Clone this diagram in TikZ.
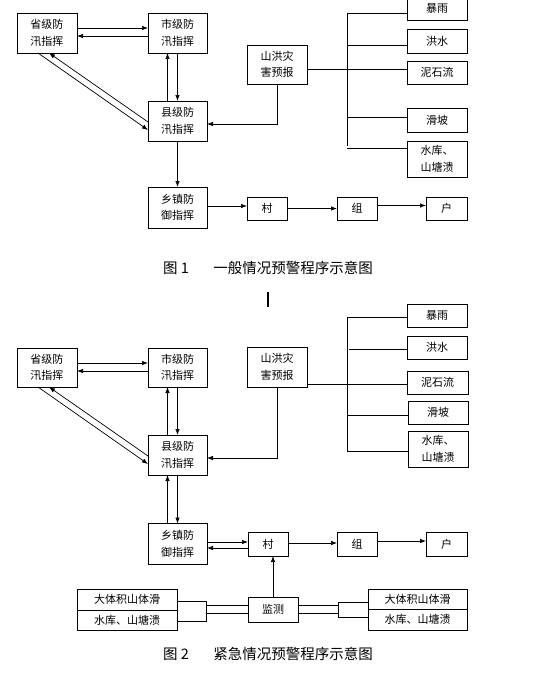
\documentclass[tikz,border=0pt]{standalone}
\usepackage{fontspec}
\setmainfont{Noto Sans CJK SC}
\usetikzlibrary{positioning,arrows.meta}
\tikzset{%
  flow box/.style={
    draw,
    line width=0.8pt,
    align=center,
    inner sep=0pt,
    outer sep=0pt,
    minimum width=60pt,
    minimum height=40pt
  },
  hazard box/.style={
    flow box,
    minimum height=23pt
  },
  place box/.style={
    flow box,
    minimum width=40pt,
    minimum height=23pt
  },
}

\begin{document}
\begin{tikzpicture}[x=1pt,y=-1pt,node distance=50pt,>={Latex[length=6pt,width=4.5pt]},line width=0.7pt,font=\fontsize{11}{16.5}\selectfont]
        \tikzstyle{figtitle}=[inner sep=0pt,font=\fontsize{14.5}{16}\selectfont]
        \useasboundingbox (0,0) rectangle (536,677);

        % figure 1
        \node[flow box] (sheng1) at (47,33) {省级防\\汛指挥};
        \node[flow box,minimum width=59pt] (shi1) at (177.5,33) {市级防\\汛指挥};
        \node[flow box,minimum width=59pt] (xian1) at (177.5,121) {县级防\\汛指挥};
        \node[flow box,minimum width=59pt,minimum height=41pt] (xz1) at (177.5,207.5) {乡镇防\\御指挥};
        \node[flow box,minimum height=39pt] (sh1) at (277,64.5) {山洪灾\\害预报};
        \node[hazard box] (by1) at (437,9) {暴雨};
        \node[hazard box,minimum height=24pt] (hs1) at (437,41) {洪水};
        \node[hazard box] (nsl1) at (437,72.5) {泥石流};
        \node[hazard box,minimum height=24pt] (hp1) at (437,120) {滑坡};
        \node[flow box,minimum height=36pt] (sk1) at (437,159) {水库、\\山塘溃};
        \node[place box] (cun1) at (267,208.5) {村};
        \node[place box,right=of cun1] (zu1) {组};
        \node[place box,minimum width=41pt,right=49pt of zu1] (hu1) {户};

        \draw[->] ([yshift=5pt]sheng1.east) -- ([yshift=5pt]shi1.west);
        \draw[->] ([yshift=-3pt]shi1.west) -- ([yshift=-3pt]sheng1.east);
        \draw[->] ([xshift=-9pt]sheng1.south) -- ([yshift=-9pt]xian1.west);
        \draw[->] ([yshift=-1pt]xian1.west) -- ([xshift=2pt]sheng1.south);
        \draw[->] (shi1.south) -- (xian1.north);
        \draw[->] ([xshift=-10pt]xian1.north) -- ([xshift=-10pt]shi1.south);
        \draw[->] (sh1.south) |- ([yshift=-3pt]xian1.east);
        \draw[->] (xian1.south) -- (xz1.north);
        \draw[->] ([yshift=1.5pt]xz1.east) coordinate (t1) -- (t1 -| cun1.west);
        \draw[->] (cun1.east) -- (zu1.west);
        \draw[->] ([yshift=3pt]zu1.east) coordinate (t2) -- (t2 -| hu1.west);

        \coordinate (sp1a) at (347,13);
        \coordinate (sp1b) at (347,146);
        \draw ([yshift=-4.5pt]sh1.east) coordinate (t3) -- (t3 -| nsl1.west);
        \draw (sp1a) -- (sp1b);
        \draw (sp1a) -- (sp1a -| by1.west);
        \draw (sp1a |- 0,45) coordinate (b1) -- (b1 -| hs1.west);
        \draw (sp1a |- 0,117) coordinate (b2) -- (b2 -| hp1.west);
        \draw (sp1a |- 0,148) coordinate (b3) -- (b3 -| sk1.west);

        \node[figtitle] (title1) at (268,268) {图 1\hskip1.7em 一般情况预警程序示意图};
        \draw[line width=1.6pt] (268,292) -- (268,307);

        % figure 2
        \node[flow box,minimum height=39pt] (sheng2) at (47,367.5) {省级防\\汛指挥};
        \node[flow box,minimum width=59pt,minimum height=39pt] (shi2) at (177.5,367.5) {市级防\\汛指挥};
        \node[flow box,minimum width=59pt] (xian2) at (177.5,455) {县级防\\汛指挥};
        \node[flow box,minimum width=59pt,minimum height=41pt] (xz2) at (177.5,544) {乡镇防\\御指挥};
        \node[flow box] (sh2) at (277,367) {山洪灾\\害预报};
        \node[hazard box] (by2) at (437,315.5) {暴雨};
        \node[hazard box] (hs2) at (437,347.5) {洪水};
        \node[hazard box,minimum width=61pt] (nsl2) at (437.5,382.5) {泥石流};
        \node[hazard box] (hp2) at (438,412.5) {滑坡};
        \node[flow box,minimum height=36pt] (sk2) at (438,449) {水库、\\山塘溃};
        \node[place box,minimum height=24pt] (cun2) at (268,544) {村};
        \node[place box,minimum height=24pt,right=49pt of cun2] (zu2) {组};
        \node[place box,minimum width=41pt,minimum height=24pt,right=49pt of zu2] (hu2) {户};
        \node[place box,minimum width=50pt,minimum height=25pt] (jc) at (273,609.5) {监测};
        \node[hazard box,minimum width=100pt,minimum height=21pt] (lt1) at (127,599.5) {大体积山体滑};
        \node[hazard box,minimum width=100pt,minimum height=20pt,below=0pt of lt1] (lt2) {水库、山塘溃};
        \node[hazard box,minimum width=29pt,minimum height=20pt] (lk) at (191.5,611) {};
        \node[hazard box,minimum width=99pt,minimum height=20pt] (rt1) at (417.5,599) {大体积山体滑};
        \node[hazard box,minimum width=99pt,minimum height=21pt,below=0pt of rt1] (rt2) {水库、山塘溃};
        \node[hazard box,minimum width=30pt,minimum height=15pt] (rk) at (353,610) {};

        \draw[->] ([yshift=4.5pt]sheng2.east) -- ([yshift=4.5pt]shi2.west);
        \draw[->] ([yshift=-3.5pt]shi2.west) -- ([yshift=-3.5pt]sheng2.east);
        \draw[->] ([xshift=-9pt]sheng2.south) -- ([yshift=-9pt]xian2.west);
        \draw[->] ([yshift=-1pt]xian2.west) -- ([xshift=2pt]sheng2.south);
        \draw[->] (shi2.south) -- (xian2.north);
        \draw[->] ([xshift=-10pt]xian2.north) -- ([xshift=-10pt]shi2.south);
        \draw[->] (sh2.south) |- ([yshift=-3pt]xian2.east);
        \draw[->] (xian2.south) -- (xz2.north);
        \draw[->] ([xshift=-10pt]xz2.north) -- ([xshift=-10pt]xian2.south);
        \draw[->] ([yshift=2pt]xz2.east) coordinate (t4) -- (t4 -| cun2.west);
        \draw[->] ([yshift=-4pt]cun2.west) coordinate (t5) -- (t5 -| xz2.east);
        \draw[->] ([yshift=1pt]cun2.east) coordinate (t6) -- (t6 -| zu2.west);
        \draw[->] ([yshift=3pt]zu2.east) coordinate (t7) -- (t7 -| hu2.west);
        \draw[->] (jc.north) -- (jc.north |- cun2.south);
        \draw ([yshift=6pt]lk.east) coordinate (t8) -- (t8 -| jc.west);
        \draw ([yshift=-2pt]lk.east) coordinate (t9) -- (t9 -| jc.west);
        \draw ([yshift=4.5pt]jc.east) coordinate (t10) -- (t10 -| rk.west);
        \draw ([yshift=-3.5pt]jc.east) coordinate (t11) -- (t11 -| rk.west);

        \coordinate (sp2a) at (347,317);
        \coordinate (sp2b) at (347,451);
        \draw ([yshift=-17pt]sh2.east) coordinate (t12) -- (t12 -| nsl2.west);
        \draw (sp2a) -- (sp2b);
        \draw (sp2a) -- (sp2a -| by2.west);
        \draw (sp2a |- 0,349) ++(2,0) coordinate (c1) -- (c1 -| hs2.west);
        \draw (sp2a |- 0,415) coordinate (c2) -- (c2 -| hp2.west);
        \draw (sp2b) -- (sp2b -| sk2.west);

        \node[figtitle] (title2) at (268,654) {图 2\hskip1.7em 紧急情况预警程序示意图};
    \end{tikzpicture}
\end{document}
